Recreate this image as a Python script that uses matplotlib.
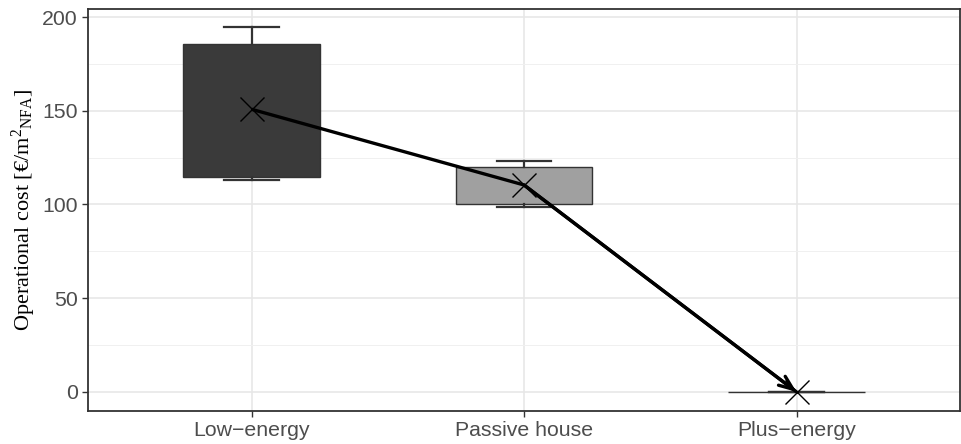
import matplotlib
matplotlib.use("Agg")
import matplotlib.pyplot as plt
from matplotlib.ticker import MultipleLocator

# --- Data ---
categories = ["Low\u2212energy", "Passive house", "Plus\u2212energy"]
q1 = [114.7, 100.1, 0.0]
q3 = [185.6, 119.8, 0.0]
whisker_lo = [113.2, 98.8, 0.0]
whisker_hi = [194.8, 123.2, 0.0]
medians = [150.0, 110.0, 0.0]   # hidden in the reference (not drawn)
means = [150.8, 110.4, 0.0]
box_colors = ["#3a3a3a", "#a0a0a0", "#ffffff"]

plt.rcParams["mathtext.fontset"] = "custom"
plt.rcParams["mathtext.rm"] = "Liberation Serif"
plt.rcParams["mathtext.it"] = "Liberation Serif:italic"

fig = plt.figure(figsize=(9.61, 4.44), dpi=100)
ax = fig.add_axes([88 / 961, 33 / 444, 872 / 961, 402 / 444])

positions = list(range(1, len(categories) + 1))
stats = []
for i in range(len(categories)):
    stats.append(dict(med=medians[i], q1=q1[i], q3=q3[i],
                      whislo=whisker_lo[i], whishi=whisker_hi[i]))

# grid first, so boxes sit on top
ax.set_axisbelow(True)
ax.yaxis.set_major_locator(MultipleLocator(50))
ax.yaxis.set_minor_locator(MultipleLocator(25))
ax.grid(which="major", color="#e6e6e6", linewidth=1.1)
ax.grid(which="minor", axis="y", color="#f0f0f0", linewidth=0.7)

bp = ax.bxp(stats, positions=positions, widths=0.5, patch_artist=True,
            showfliers=False, capwidths=0.2,
            boxprops=dict(edgecolor="#333333", linewidth=1.0),
            whiskerprops=dict(color="#333333", linewidth=1.6),
            capprops=dict(color="#333333", linewidth=1.6),
            medianprops=dict(linewidth=0))
for patch, col in zip(bp["boxes"], box_colors):
    patch.set_facecolor(col)

# mean markers
ax.plot(positions, means, linestyle="none", marker="x", markersize=17,
        markeredgewidth=1.0, color="black", zorder=5)

# path through the means with an arrowhead at the end
ax.plot(positions, means, color="black", linewidth=2.4, zorder=6,
        solid_capstyle="butt")
ax.annotate("", xy=(positions[-1], means[-1]),
            xytext=(positions[-2], means[-2]),
            arrowprops=dict(arrowstyle="->,head_length=1.0,head_width=0.4",
                            color="black", lw=2.4, shrinkA=0, shrinkB=0),
            zorder=7)

ax.set_xlim(0.4, 3.6)
ax.set_ylim(-10.2, 204.3)
ax.set_xticks(positions)
ax.set_xticklabels(categories)
ax.tick_params(axis="both", labelsize=15.3, labelcolor="#4d4d4d",
               color="#333333", length=4, width=1)
ax.tick_params(axis="y", which="minor", length=0)
for lab in ax.get_xticklabels() + ax.get_yticklabels():
    lab.set_family("Liberation Sans")

for sp in ax.spines.values():
    sp.set_color("#333333")
    sp.set_linewidth(1.3)

ax.set_ylabel("Operational cost [\u20ac/m$^2{}_{\\mathrm{NFA}}$]",
              family="Liberation Serif", fontsize=16, color="black", labelpad=3)

fig.savefig("out.png", dpi=100)
